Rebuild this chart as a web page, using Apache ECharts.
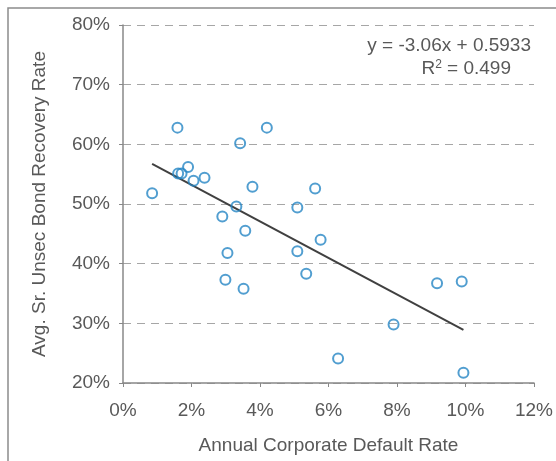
<!DOCTYPE html>
<html>
<head>
<meta charset="utf-8">
<script src="https://cdn.jsdelivr.net/npm/echarts@6/dist/echarts.min.js"></script>
<style>
html,body{margin:0;padding:0;background:#fff;}
#chart{width:556px;height:461px;}
</style>
</head>
<body>
<div id="chart"></div>
<script>
// Annual corporate default rate (%)
var defaultRate = [1.59, 4.20, 3.42, 1.90, 1.61, 1.71, 2.06, 2.38, 0.85, 3.78, 5.61, 3.31, 5.09, 2.90, 3.57, 5.77, 5.09, 3.05, 5.35, 2.99, 3.52, 9.17, 9.89, 7.90, 6.28, 9.94];
// Avg. Sr. Unsec bond recovery rate (%)
var recoveryRate = [62.8, 62.8, 60.2, 56.2, 55.1, 55.1, 53.9, 54.4, 51.8, 52.9, 52.6, 49.6, 49.4, 47.9, 45.5, 44.0, 42.1, 41.8, 38.3, 37.3, 35.8, 36.7, 37.0, 29.8, 24.1, 21.7];
// Trend line coefficients (fraction units)
var slope = -3.06;
var intercept = 0.5933;
var rSquared = 0.499;
var xTicks = [0, 2, 4, 6, 8, 10, 12];
var yTicks = [20, 30, 40, 50, 60, 70, 80];

var points = defaultRate.map(function (x, i) { return [x, recoveryRate[i]]; });
var xMin = Math.min.apply(null, defaultRate);
var xMax = Math.max.apply(null, defaultRate);
function trend(xp) { return 100 * (intercept + slope * xp / 100); }
var trendData = [[xMin, trend(xMin)], [xMax, trend(xMax)]];

var FONT = 'Liberation Sans';
var TXT = '#595959';
var FS = 19;

var chart = echarts.init(document.getElementById('chart'));
chart.setOption({
  animation: false,
  backgroundColor: '#fff',
  grid: { left: 123, top: 25, right: 19, bottom: 78, containLabel: false },
  xAxis: {
    type: 'value',
    min: xTicks[0], max: xTicks[xTicks.length - 1], interval: 2,
    name: 'Annual Corporate Default Rate',
    nameLocation: 'middle', nameGap: 53,
    nameTextStyle: { color: TXT, fontFamily: FONT, fontSize: FS },
    axisLine: { lineStyle: { color: '#888', width: 1.5 } },
    axisTick: { show: true, length: 4, inside: false, lineStyle: { color: '#888' } },
    axisLabel: { formatter: '{value}%', color: TXT, fontFamily: FONT, fontSize: FS, margin: 18 },
    splitLine: { show: false }
  },
  yAxis: {
    type: 'value',
    min: yTicks[0], max: yTicks[yTicks.length - 1], interval: 10,
    name: 'Avg. Sr. Unsec Bond Recovery Rate',
    nameLocation: 'middle', nameGap: 74, nameRotate: 90,
    nameTextStyle: { color: TXT, fontFamily: FONT, fontSize: FS },
    axisLine: { show: true, lineStyle: { color: '#888', width: 1.5 } },
    axisTick: { show: true, length: 4, lineStyle: { color: '#888' } },
    axisLabel: { formatter: '{value}%', color: TXT, fontFamily: FONT, fontSize: FS, margin: 13 },
    splitLine: { show: true, lineStyle: { color: '#a6a6a6', type: [8, 6], width: 1 } }
  },
  graphic: [
    { type: 'rect', shape: { x: 8, y: 8, width: 600, height: 500 }, style: { fill: 'none', stroke: '#8c8c8c', lineWidth: 1.5 }, z: 0, silent: true },
    { type: 'text', right: 25, top: 36, style: { text: 'y = ' + slope.toFixed(2) + 'x + ' + intercept.toFixed(4), fill: TXT, font: FS + 'px "' + FONT + '"', textAlign: 'right' } },
    { type: 'text', right: 45, top: 59, style: {
        text: '{a|R}{s|2}{a| = ' + rSquared.toFixed(3) + '}',
        rich: { a: { fill: TXT, fontFamily: FONT, fontSize: FS }, s: { fill: TXT, fontFamily: FONT, fontSize: 12, verticalAlign: 'top', padding: [0, 0, 8, 0] } }
      } }
  ],
  series: [
    {
      type: 'line', data: trendData, showSymbol: false, symbol: 'none',
      lineStyle: { color: '#404040', width: 2 }, z: 2, silent: true
    },
    {
      type: 'scatter', data: points, symbol: 'circle', symbolSize: 10,
      itemStyle: { color: 'rgba(255,255,255,0)', borderColor: '#2586c4', borderWidth: 2 }, z: 3
    }
  ]
});
</script>
</body>
</html>
